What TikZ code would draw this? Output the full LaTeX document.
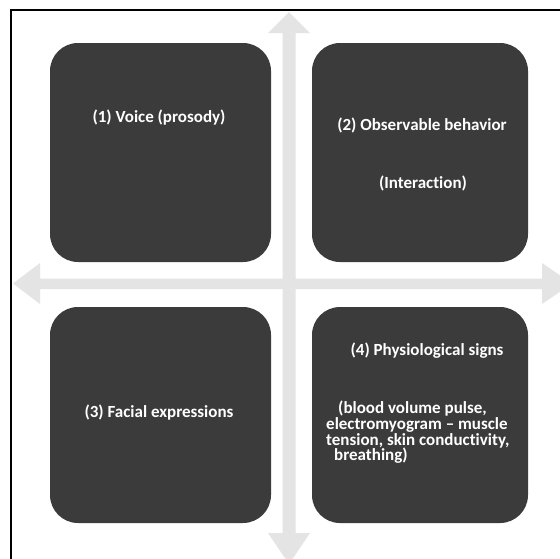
\documentclass[tikz,border=0pt]{standalone}
\usepackage{fontspec}
\setmainfont{Carlito}[Ligatures=NoCommon]
\begin{document}
\begin{tikzpicture}[x=1pt,y=-1pt,
  panel/.style={fill=boxgrey,rounded corners=28pt},
  label/.style={text=white,font=\bfseries\fontsize{17}{15.6}\selectfont,inner sep=0pt},
  axis/.style={fill=axisgrey}]
\definecolor{boxgrey}{HTML}{3B3B3B}
\definecolor{axisgrey}{HTML}{E4E4E4}
\useasboundingbox (0,0) rectangle (560,558);
\fill[white] (0,0) rectangle (560,558);
% outer frame (runs off the right and bottom edges)
\draw[line width=2pt] (11,10) rectangle (575,575);

% cross of double-headed block arrows
\coordinate (c) at (289,284);
\fill[axisgrey] (282.5,33) -- (268,33) -- (289,12) -- (310,33) -- (295.5,33)
  -- (295.5,533) -- (310,533) -- (289,564) -- (268,533) -- (282.5,533) -- cycle;
\fill[axisgrey] (40,278.5) -- (40,263) -- (13,283.5) -- (40,304) -- (40,278.5)
  -- (542,278.5) -- (542,263) -- (572,283.5) -- (542,304) -- (542,289) -- (40,289) -- cycle;

% four quadrant panels
\fill[panel] (50,43) rectangle (271,262);
\fill[panel] (312,43) rectangle (528,262);
\fill[panel] (50,307) rectangle (271,523);
\fill[panel] (312,307) rectangle (528,523);

\node[label] (voice) at (159,118) {(1) Voice (prosody)};
\node[label] (obs) at (422,125) {(2) Observable behavior};
\node[label] (inter) at (423,183) {(Interaction)};
\node[label] (face) at (159,413) {(3) Facial expressions};
\node[label] (phys) at (427,351) {(4) Physiological signs};
\node[label,align=left,anchor=north west] (physd) at (326,401)
  {\hspace*{12pt}(blood volume pulse,\\electromyogram -- muscle\\tension, skin conductivity,\\\hspace*{8pt}breathing)};
\end{tikzpicture}
\end{document}
